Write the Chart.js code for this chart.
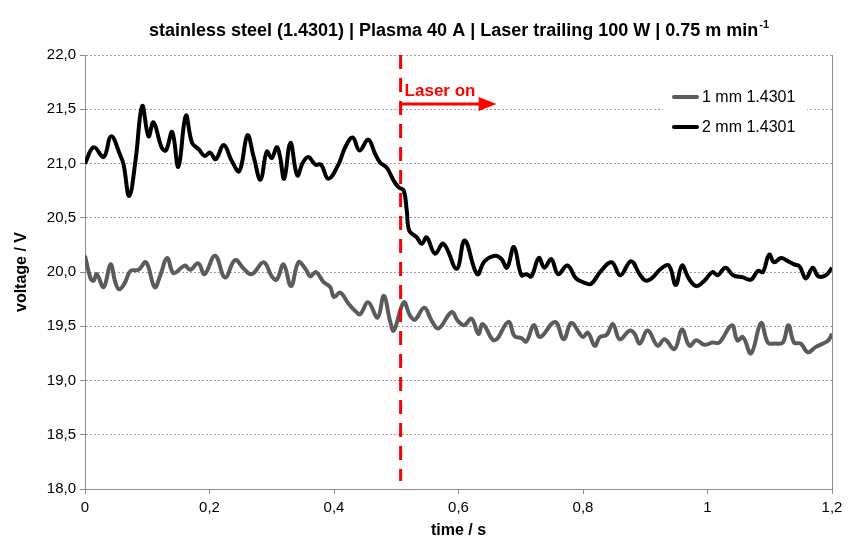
<!DOCTYPE html>
<html>
<head>
<meta charset="utf-8">
<script src="https://cdn.jsdelivr.net/npm/chart.js@4"></script>
<style>
  html, body { margin: 0; padding: 0; background: #fff; }
  #wrap { width: 858px; height: 540px; }
</style>
</head>
<body>
<div id="wrap"><canvas id="chart" width="858" height="540"></canvas></div>
<script>
const titleText = 'stainless steel (1.4301) | Plasma 40 A | Laser trailing 100 W | 0.75 m min';
const titleSup = '-1';
const seriesNames = ['1 mm 1.4301', '2 mm 1.4301'];
const laserLabel = 'Laser on';
const laserOnTime = 0.507;

// 1 mm sheet
const time1mm = [0, 0.009, 0.014, 0.019, 0.030, 0.041, 0.049, 0.055, 0.064, 0.073, 0.086, 0.098, 0.112, 0.121, 0.132, 0.142, 0.155, 0.161, 0.169, 0.182, 0.192, 0.209, 0.225, 0.241, 0.255, 0.268, 0.287, 0.300, 0.308, 0.319, 0.331, 0.343, 0.354, 0.362, 0.371, 0.383, 0.394, 0.400, 0.410, 0.423, 0.436, 0.442, 0.455, 0.470, 0.480, 0.490, 0.496, 0.512, 0.522, 0.530, 0.545, 0.557, 0.568, 0.589, 0.599, 0.609, 0.621, 0.632, 0.639, 0.658, 0.680, 0.690, 0.701, 0.709, 0.721, 0.731, 0.755, 0.769, 0.781, 0.795, 0.800, 0.808, 0.819, 0.827, 0.838, 0.848, 0.859, 0.875, 0.883, 0.891, 0.904, 0.920, 0.931, 0.947, 0.959, 0.971, 0.982, 0.995, 1.008, 1.019, 1.039, 1.048, 1.057, 1.070, 1.086, 1.097, 1.109, 1.121, 1.130, 1.139, 1.150, 1.161, 1.174, 1.185, 1.194, 1.200];
const volt1mm = [20.15, 19.94, 19.92, 19.98, 19.86, 20.07, 19.90, 19.84, 19.90, 20.01, 20.02, 20.09, 19.86, 19.97, 20.13, 19.99, 20.04, 20.06, 20.02, 20.08, 19.98, 20.15, 19.95, 20.11, 20.03, 19.98, 20.09, 19.96, 19.93, 20.07, 19.87, 20.09, 20.03, 19.96, 20.00, 19.91, 19.86, 19.77, 19.81, 19.71, 19.63, 19.61, 19.72, 19.58, 19.78, 19.55, 19.46, 19.72, 19.60, 19.56, 19.67, 19.55, 19.48, 19.63, 19.55, 19.51, 19.57, 19.43, 19.52, 19.37, 19.54, 19.41, 19.39, 19.36, 19.51, 19.40, 19.54, 19.38, 19.53, 19.43, 19.40, 19.44, 19.32, 19.40, 19.42, 19.52, 19.38, 19.46, 19.43, 19.34, 19.46, 19.32, 19.38, 19.29, 19.47, 19.32, 19.37, 19.33, 19.35, 19.35, 19.51, 19.37, 19.40, 19.25, 19.53, 19.35, 19.34, 19.35, 19.51, 19.35, 19.34, 19.26, 19.31, 19.34, 19.37, 19.43];

// 2 mm sheet
const time2mm = [0, 0.014, 0.030, 0.042, 0.057, 0.062, 0.071, 0.081, 0.092, 0.102, 0.110, 0.123, 0.130, 0.140, 0.150, 0.162, 0.172, 0.183, 0.192, 0.201, 0.210, 0.223, 0.236, 0.248, 0.261, 0.271, 0.282, 0.292, 0.300, 0.308, 0.313, 0.320, 0.330, 0.341, 0.350, 0.359, 0.370, 0.379, 0.391, 0.407, 0.418, 0.430, 0.441, 0.455, 0.466, 0.474, 0.485, 0.496, 0.504, 0.512, 0.517, 0.521, 0.533, 0.541, 0.549, 0.562, 0.576, 0.597, 0.610, 0.630, 0.642, 0.659, 0.669, 0.678, 0.689, 0.701, 0.709, 0.717, 0.729, 0.738, 0.749, 0.760, 0.775, 0.789, 0.803, 0.813, 0.829, 0.846, 0.860, 0.877, 0.891, 0.901, 0.912, 0.925, 0.938, 0.949, 0.959, 0.970, 0.982, 0.995, 1.008, 1.016, 1.029, 1.041, 1.057, 1.070, 1.081, 1.089, 1.099, 1.107, 1.118, 1.129, 1.139, 1.148, 1.158, 1.169, 1.178, 1.190, 1.200];
const volt2mm = [21.00, 21.15, 21.06, 21.25, 21.07, 20.99, 20.70, 21.02, 21.53, 21.25, 21.38, 21.15, 21.12, 21.29, 20.97, 21.44, 21.19, 21.13, 21.07, 21.10, 21.04, 21.17, 21.02, 20.93, 21.26, 21.06, 20.85, 21.11, 21.05, 21.15, 21.07, 20.86, 21.19, 20.89, 21.01, 21.06, 20.99, 20.99, 20.86, 20.99, 21.15, 21.24, 21.12, 21.22, 21.09, 21.01, 20.96, 20.84, 20.78, 20.75, 20.56, 20.38, 20.32, 20.26, 20.32, 20.17, 20.26, 20.03, 20.29, 19.98, 20.10, 20.15, 20.12, 20.04, 20.23, 19.97, 19.98, 19.96, 20.13, 20.04, 20.12, 19.98, 20.06, 19.94, 19.90, 19.89, 20.01, 20.09, 19.97, 20.10, 19.98, 19.92, 19.95, 20.03, 20.06, 19.88, 20.06, 19.94, 19.87, 19.92, 20.00, 19.97, 20.04, 19.97, 19.95, 19.93, 20.01, 20.00, 20.16, 20.09, 20.13, 20.10, 20.07, 20.05, 19.94, 20.04, 19.96, 19.97, 20.04];

const xTickLabels = ['0', '0,2', '0,4', '0,6', '0,8', '1', '1,2'];
const yTickLabels = ['18,0', '18,5', '19,0', '19,5', '20,0', '20,5', '21,0', '21,5', '22,0'];

const FONT = '"Liberation Sans", Arial, sans-serif';
const greyLine = '#5b5b5b';

function toPoints(ts, vs) {
    return ts.map((t, i) => ({ x: t, y: vs[i] }));
}

const extras = {
    id: 'extras',
    afterDatasetsDraw(chart) {
        const ctx = chart.ctx;
        const area = chart.chartArea;
        const xs = chart.scales.x;
        ctx.save();

        // right border of the plot
        ctx.strokeStyle = '#8c8c8c';
        ctx.lineWidth = 1;
        ctx.beginPath();
        ctx.moveTo(area.right + 0.5, area.top);
        ctx.lineTo(area.right + 0.5, area.bottom);
        ctx.stroke();

        // laser on marker
        const lx = xs.getPixelForValue(laserOnTime);
        ctx.strokeStyle = '#ff0000';
        ctx.lineWidth = 3;
        ctx.setLineDash([14, 9]);
        ctx.beginPath();
        ctx.moveTo(lx, area.top);
        ctx.lineTo(lx, area.bottom - 8);
        ctx.stroke();
        ctx.setLineDash([]);
        const ay = 104;
        ctx.beginPath();
        ctx.moveTo(lx - 1.5, ay);
        ctx.lineTo(lx + 80, ay);
        ctx.stroke();
        ctx.fillStyle = '#ff0000';
        ctx.beginPath();
        ctx.moveTo(lx + 78, ay - 7);
        ctx.lineTo(lx + 96, ay);
        ctx.lineTo(lx + 78, ay + 7);
        ctx.closePath();
        ctx.fill();
        ctx.font = 'bold 17px ' + FONT;
        ctx.textBaseline = 'middle';
        ctx.textAlign = 'left';
        ctx.fillText(laserLabel, lx + 4, 91);

        // legend
        ctx.fillStyle = '#fff';
        ctx.fillRect(663, 84, 144, 56);
        const colors = [greyLine, '#000'];
        ctx.font = '16px ' + FONT;
        seriesNames.forEach((name, i) => {
            const y = 97 + i * 30;
            ctx.strokeStyle = colors[i];
            ctx.lineWidth = 4;
            ctx.lineCap = 'round';
            ctx.beginPath();
            ctx.moveTo(674, y);
            ctx.lineTo(697, y);
            ctx.stroke();
            ctx.fillStyle = '#000';
            ctx.fillText(name, 702, y + 1);
        });

        // title with superscript
        ctx.fillStyle = '#000';
        ctx.font = 'bold 18px ' + FONT;
        const w1 = ctx.measureText(titleText).width;
        ctx.font = 'bold 11px ' + FONT;
        const w2 = ctx.measureText(titleSup).width;
        const cx = (area.left + area.right) / 2;
        const x0 = cx - (w1 + w2) / 2;
        ctx.textAlign = 'left';
        ctx.textBaseline = 'alphabetic';
        ctx.font = 'bold 18px ' + FONT;
        ctx.fillText(titleText, x0, 36);
        ctx.font = 'bold 11px ' + FONT;
        ctx.fillText(titleSup, x0 + w1 + 1, 28);
        ctx.restore();
    }
};

new Chart(document.getElementById('chart').getContext('2d'), {
    type: 'line',
    data: {
        datasets: [
            {
                label: seriesNames[0],
                data: toPoints(time1mm, volt1mm),
                borderColor: greyLine,
                borderWidth: 4,
                pointRadius: 0,
                tension: 0.4,
                fill: false
            },
            {
                label: seriesNames[1],
                data: toPoints(time2mm, volt2mm),
                borderColor: '#000',
                borderWidth: 4,
                pointRadius: 0,
                tension: 0.4,
                fill: false
            }
        ]
    },
    options: {
        responsive: false,
        animation: false,
        layout: { padding: { left: 0, right: 26, top: 55, bottom: 0 } },
        plugins: {
            legend: { display: false },
            tooltip: { enabled: false }
        },
        scales: {
            x: {
                type: 'linear',
                min: 0,
                max: 1.2,
                afterFit: scale => { scale.height = 51; },
                afterBuildTicks: scale => {
                    scale.ticks = xTickLabels.map((l, i) => ({ value: i * 0.2 }));
                },
                ticks: {
                    autoSkip: false,
                    maxRotation: 0,
                    padding: 5,
                    color: '#000',
                    font: { family: FONT, size: 15 },
                    callback: (v, i) => xTickLabels[i]
                },
                grid: {
                    drawOnChartArea: false,
                    tickLength: 5,
                    tickColor: '#8c8c8c'
                },
                border: { color: '#8c8c8c' },
                title: {
                    display: true,
                    text: 'time / s',
                    color: '#000',
                    font: { family: FONT, size: 16, weight: 'bold' },
                    padding: { top: 0, bottom: 0 }
                }
            },
            y: {
                min: 18,
                max: 22,
                afterFit: scale => { scale.width = 85; },
                afterBuildTicks: scale => {
                    scale.ticks = yTickLabels.map((l, i) => ({ value: 18 + i * 0.5 }));
                },
                ticks: {
                    padding: 4,
                    color: '#000',
                    font: { family: FONT, size: 15 },
                    callback: (v, i) => yTickLabels[i]
                },
                grid: {
                    color: '#a0a0a0',
                    tickBorderDash: [],
                    tickLength: 5,
                    tickColor: '#8c8c8c'
                },
                border: { color: '#8c8c8c', dash: [2, 2] },
                title: {
                    display: true,
                    text: 'voltage / V',
                    color: '#000',
                    font: { family: FONT, size: 16, weight: 'bold' },
                    padding: { top: 12, bottom: 0 }
                }
            }
        }
    },
    plugins: [extras]
});
</script>
</body>
</html>
